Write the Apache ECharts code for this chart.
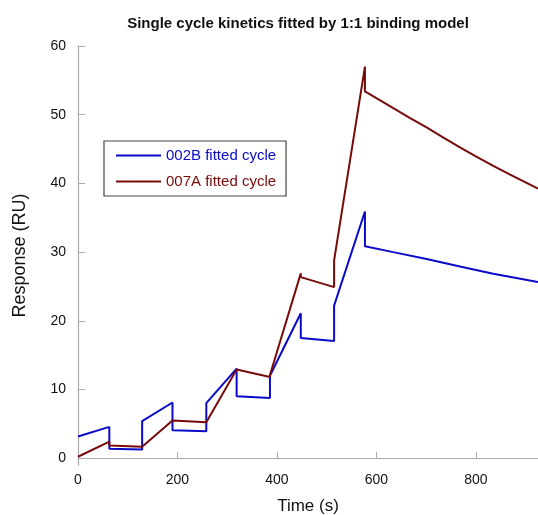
<!DOCTYPE html>
<html>
<head>
<meta charset="utf-8">
<script src="https://cdn.jsdelivr.net/npm/echarts@6/dist/echarts.min.js"></script>
<style>html,body{margin:0;padding:0;background:#fff}#c{width:538px;height:515px}</style>
</head>
<body>
<div id="c"></div>
<script>
const title = 'Single cycle kinetics fitted by 1:1 binding model';
const seriesNames = ['002B fitted cycle', '007A fitted cycle'];
const xTicks = [0, 200, 400, 600, 800];
const yTicks = [0, 10, 20, 30, 40, 50, 60];

const blueTime = [0, 63, 63, 129, 129, 190, 190, 258, 258, 319, 319, 386, 386, 448, 448, 515, 515, 577, 577, 634, 701, 768, 835, 925];
const blueResp = [3.15, 4.55, 1.35, 1.26, 5.38, 8.1, 4.07, 3.92, 8.0, 13.04, 9.0, 8.77, 12.0, 21.1, 17.5, 17.05, 22.2, 35.9, 30.86, 29.99, 29.0, 27.9, 26.85, 25.63];

const redTime = [0, 63, 63, 129, 190, 258, 258, 319, 386, 386, 448, 448, 515, 515, 577, 577, 600, 634, 667, 701, 734, 768, 801, 835, 868, 925];
const redResp = [0.2, 2.4, 1.85, 1.64, 5.48, 5.23, 5.35, 12.9, 11.8, 12.1, 26.9, 26.35, 24.9, 28.8, 57.0, 53.4, 52.4, 50.95, 49.55, 48.15, 46.7, 45.25, 43.9, 42.55, 41.3, 39.25];

const colors = ['#0a0ac8', '#780a0a'];
const zip = (t, v) => t.map((x, i) => [x, v[i]]);

const chart = echarts.init(document.getElementById('c'));
chart.setOption({
  animation: false,
  backgroundColor: '#fff',
  title: {
    text: title, left: 293, top: 11, textAlign: 'center',
    textStyle: { fontFamily: 'Liberation Sans', fontSize: 15, fontWeight: 'bold', color: '#111' }
  },
  legend: {
    orient: 'vertical', left: 104, top: 141, icon: 'rect',
    padding: [7, 10, 7, 12], itemWidth: 45, itemHeight: 2, itemGap: 11,
    borderColor: '#444', borderWidth: 1.2,
    textStyle: { fontFamily: 'Liberation Sans', fontSize: 15 },
    data: [
      { name: seriesNames[0], textStyle: { color: colors[0] } },
      { name: seriesNames[1], textStyle: { color: colors[1] } }
    ]
  },
  grid: { left: 78, right: 0, top: 46, bottom: 50, containLabel: false, outerBoundsMode: 'none' },
  xAxis: {
    type: 'value', min: 0, max: 925, interval: 200,
    name: 'Time (s)', nameLocation: 'middle', nameGap: 33,
    nameTextStyle: { fontFamily: 'Liberation Sans', fontSize: 17, color: '#111' },
    axisLine: { show: true, lineStyle: { color: '#aaa', width: 1.2 } },
    axisTick: { show: true, inside: true, length: 6, lineStyle: { color: '#aaa' } },
    axisLabel: { fontFamily: 'Liberation Sans', fontSize: 14, color: '#111', margin: 8,
      formatter: v => xTicks.includes(v) ? String(v) : '' },
    splitLine: { show: false }
  },
  yAxis: {
    type: 'value', min: -1, max: 60,
    name: 'Response (RU)', nameLocation: 'middle', nameGap: 49,
    nameTextStyle: { fontFamily: 'Liberation Sans', fontSize: 18, color: '#111' },
    axisLine: { show: true, lineStyle: { color: '#aaa', width: 1.2 } },
    axisTick: { show: true, inside: true, length: 7, lineStyle: { color: '#aaa' }, customValues: yTicks },
    axisLabel: { fontFamily: 'Liberation Sans', fontSize: 14, color: '#111', margin: 12, customValues: yTicks },
    splitLine: { show: false }
  },
  series: [
    { name: seriesNames[0], type: 'line', data: zip(blueTime, blueResp), symbol: 'none',
      lineStyle: { color: colors[0], width: 2 }, itemStyle: { color: colors[0] } },
    { name: seriesNames[1], type: 'line', data: zip(redTime, redResp), symbol: 'none',
      lineStyle: { color: colors[1], width: 2 }, itemStyle: { color: colors[1] } }
  ]
});
</script>
</body>
</html>
